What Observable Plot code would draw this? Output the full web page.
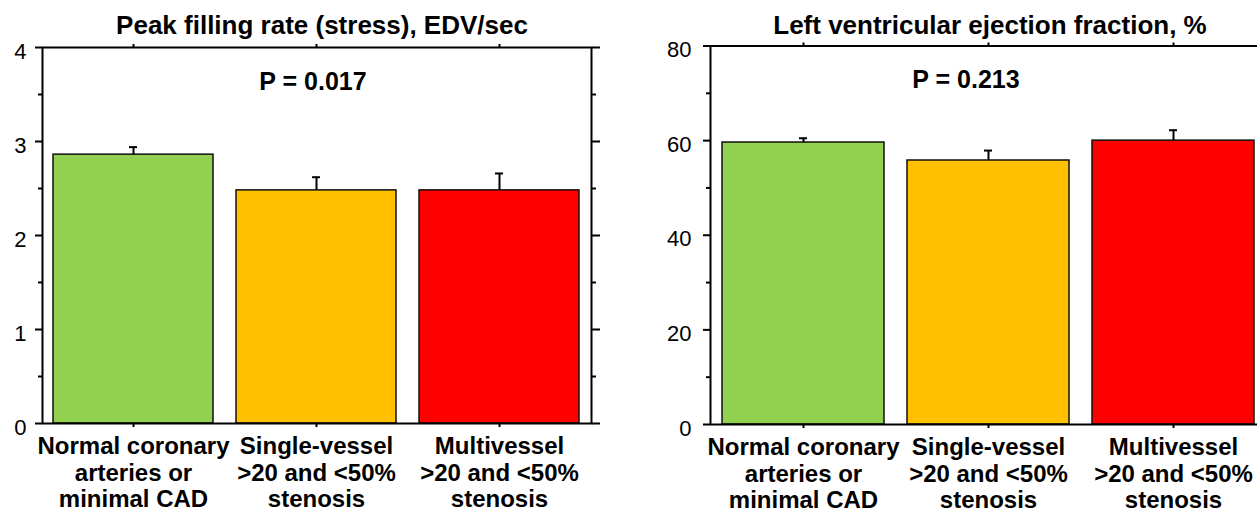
<!DOCTYPE html>
<html>
<head>
<meta charset="utf-8">
<script src="https://cdn.jsdelivr.net/npm/d3@7"></script>
<script src="https://cdn.jsdelivr.net/npm/@observablehq/plot@0.6"></script>
<style>
  html, body { margin: 0; padding: 0; background: #fff; overflow: hidden; width: 1257px; height: 511px; }
  #left { position: absolute; left: 0; top: 0; width: 620px; }
  #right { position: absolute; left: 620px; top: 0; width: 660px; }
  svg { max-width: none !important; }
</style>
</head>
<body>
<div id="left"></div>
<div id="right"></div>
<script>
// ---- data ----
const categories = [
  "Normal coronary\narteries or\nminimal CAD",
  "Single-vessel\n>20 and <50%\nstenosis",
  "Multivessel\n>20 and <50%\nstenosis"
];
const barColors = ["#92D050", "#FFC000", "#FF0000"];

const pfrTitle = "Peak filling rate (stress), EDV/sec";
const pfrP = "P = 0.017";
const pfrMeans = [2.86, 2.48, 2.48];
const pfrUpper = [2.94, 2.62, 2.66];
const pfrTicks = [0, 1, 2, 3, 4];
const pfrMinor = [0.5, 1.5, 2.5, 3.5];

const lvefTitle = "Left ventricular ejection fraction, %";
const lvefP = "P = 0.213";
const lvefMeans = [59.6, 55.8, 60.0];
const lvefUpper = [60.5, 57.9, 62.2];
const lvefTicks = [0, 20, 40, 60, 80];
const lvefMinor = [10, 30, 50, 70];

const FONT = "'Liberation Sans', Arial, Helvetica, sans-serif";

function panel(cfg) {
  const data = categories.map((c, i) => ({cat: c, value: cfg.means[i], upper: cfg.upper[i], color: barColors[i]}));
  return Plot.plot({
    width: cfg.width,
    height: 511,
    marginLeft: cfg.marginLeft,
    marginRight: cfg.marginRight,
    marginTop: cfg.marginTop,
    marginBottom: cfg.marginBottom,
    style: {fontFamily: FONT, fontSize: "18px", background: "transparent", overflow: "visible", color: "#000", maxWidth: "none"},
    x: {domain: categories, paddingInner: 0.125, paddingOuter: 0.0625},
    y: {domain: cfg.domain},
    color: {type: "identity"},
    marks: [
      Plot.barY(data, {x: "cat", y: "value", fill: "color", stroke: "#111", strokeWidth: 1.5}),
      Plot.ruleX(data, {x: "cat", y1: "value", y2: "upper", stroke: "#000", strokeWidth: 2}),
      Plot.tickY(data, {x: "cat", y: "upper", stroke: "#000", strokeWidth: 2, insetLeft: cfg.capInset, insetRight: cfg.capInset}),
      Plot.frame({stroke: "#000", strokeWidth: 2}),
      // left axis ticks
      Plot.axisY({anchor: "left", ticks: cfg.ticks, tickSize: 7, text: null, label: null, strokeWidth: 2}),
      Plot.axisY({anchor: "left", ticks: cfg.minor, tickSize: 4, text: null, label: null, strokeWidth: 2}),
      // left axis tick labels
      Plot.text(cfg.ticks, {y: d => d, text: d => String(d), frameAnchor: "left", textAnchor: "end",
        dx: -cfg.labelPad, dy: 4, fontSize: 22, fill: "#000"}),
      // right side ticks
      Plot.axisY({anchor: "right", ticks: cfg.ticks, tickSize: 8, text: null, label: null, strokeWidth: 2}),
      Plot.axisY({anchor: "right", ticks: cfg.minor, tickSize: 4, text: null, label: null, strokeWidth: 2}),
      // top and bottom category ticks
      Plot.axisX({anchor: "top", tickSize: 4, text: null, label: null, strokeWidth: 2}),
      Plot.axisX({anchor: "bottom", tickSize: 4, text: null, label: null, strokeWidth: 2}),
      // category labels
      Plot.text(categories, {x: d => d, text: d => d, frameAnchor: "bottom", lineAnchor: "top", dy: cfg.labelDy,
        fontSize: 24, fontWeight: "bold", lineHeight: 1.1, fill: "#000"}),
      // title and P value
      Plot.text([cfg.title], {text: d => d, frameAnchor: "top", lineAnchor: "middle", dx: cfg.titleDx, dy: cfg.titleDy,
        fontSize: 26, fontWeight: "bold", fill: "#000"}),
      Plot.text([cfg.p], {text: d => d, frameAnchor: "top", lineAnchor: "middle", dx: cfg.pDx, dy: 34,
        fontSize: 25, fontWeight: "bold", fill: "#000"})
    ]
  });
}

document.getElementById("left").append(panel({
  width: 620, marginLeft: 42, marginRight: 29, marginTop: 47, marginBottom: 88,
  domain: [0, 4], means: pfrMeans, upper: pfrUpper, ticks: pfrTicks, minor: pfrMinor,
  capInset: 76, labelPad: 16, labelDy: 12, title: pfrTitle, titleDx: 5, titleDy: -22, p: pfrP, pDx: -4
}));

document.getElementById("right").append(panel({
  width: 660, marginLeft: 90, marginRight: 15, marginTop: 45.5, marginBottom: 87,
  domain: [0, 80], means: lvefMeans, upper: lvefUpper, ticks: lvefTicks, minor: lvefMinor,
  capInset: 77, labelPad: 19, labelDy: 12, title: lvefTitle, titleDx: 2, titleDy: -20.5, p: lvefP, pDx: -22
}));
</script>
</body>
</html>
